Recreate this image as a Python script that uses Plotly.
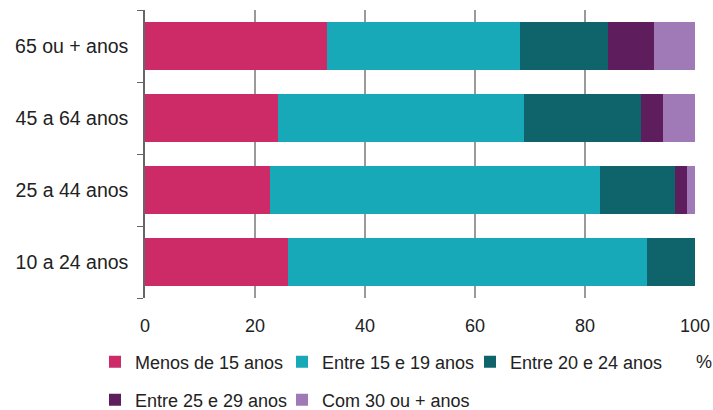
import plotly.graph_objects as go

categories = ["10 a 24 anos", "25 a 44 anos", "45 a 64 anos", "65 ou + anos"]
series_names = ["Menos de 15 anos", "Entre 15 e 19 anos", "Entre 20 e 24 anos",
                "Entre 25 e 29 anos", "Com 30 ou + anos"]
menos15 = [26.0, 22.7, 24.2, 33.0]
entre15_19 = [65.2, 60.1, 44.7, 35.2]
entre20_24 = [8.8, 13.5, 21.2, 15.9]
entre25_29 = [0.0, 2.2, 4.0, 8.5]
com30 = [0.0, 1.5, 5.9, 7.4]
colors = ["#CD2A68", "#18A9B9", "#0F636B", "#5E1E5E", "#A07AB6"]
x_ticks = [0, 20, 40, 60, 80, 100]

values = [menos15, entre15_19, entre20_24, entre25_29, com30]

FONT = "Liberation Sans, Arial, sans-serif"
PLOT_L, PLOT_W, PLOT_T, PLOT_H = 145, 550, 10, 288

# legend slots: (left px, center y px)
slots = [(95, 362), (282, 362), (470, 362), (95, 400), (282, 400)]
legend_keys = ["legend", "legend2", "legend3", "legend4", "legend5"]

fig = go.Figure()
for name, vals, col, lg in zip(series_names, values, colors, legend_keys):
    fig.add_trace(go.Bar(
        y=categories, x=vals, name=name, orientation="h",
        marker=dict(color=col, line=dict(width=0)), legend=lg,
    ))

legends = {}
for key, (px, py) in zip(legend_keys, slots):
    legends[key] = dict(
        orientation="h", xanchor="left", yanchor="middle",
        x=(px - PLOT_L) / PLOT_W, y=-(py - (PLOT_T + PLOT_H)) / PLOT_H,
        font=dict(family=FONT, size=18, color="#222"),
        itemwidth=30, bgcolor="rgba(0,0,0,0)",
    )

fig.update_layout(
    width=713, height=410,
    margin=dict(l=PLOT_L, r=713 - PLOT_L - PLOT_W, t=PLOT_T,
                b=410 - PLOT_T - PLOT_H, autoexpand=False),
    barmode="stack", bargap=0.32,
    plot_bgcolor="white", paper_bgcolor="white",
    font=dict(family=FONT, size=18, color="#222"),
    showlegend=True,
    xaxis=dict(
        range=[0, 100], tickvals=x_ticks, ticktext=[str(v) for v in x_ticks],
        showgrid=True, gridcolor="#9A9A9A", gridwidth=2,
        zeroline=False, showline=False, ticks="",
        tickfont=dict(family=FONT, size=18, color="#222"),
        ticklabelstandoff=15, ticklabeloverflow="allow",
    ),
    yaxis=dict(
        showline=True, linecolor="#666", linewidth=1.5,
        ticks="outside", tickson="boundaries", ticklen=6, tickcolor="#666",
        showgrid=False, tickfont=dict(family=FONT, size=19.5, color="#222"),
        ticklabelstandoff=11,
    ),
    annotations=[dict(
        x=(704 - PLOT_L) / PLOT_W, y=-(362 - (PLOT_T + PLOT_H)) / PLOT_H,
        xref="paper", yref="paper", text="%",
        showarrow=False, xanchor="center", yanchor="middle",
        font=dict(family=FONT, size=18, color="#222"),
    )],
    **legends,
)

fig.write_html(
    "out.html",
    config={"displayModeBar": False},
    post_script="document.body.style.margin='0';document.body.style.overflow='hidden';",
)
